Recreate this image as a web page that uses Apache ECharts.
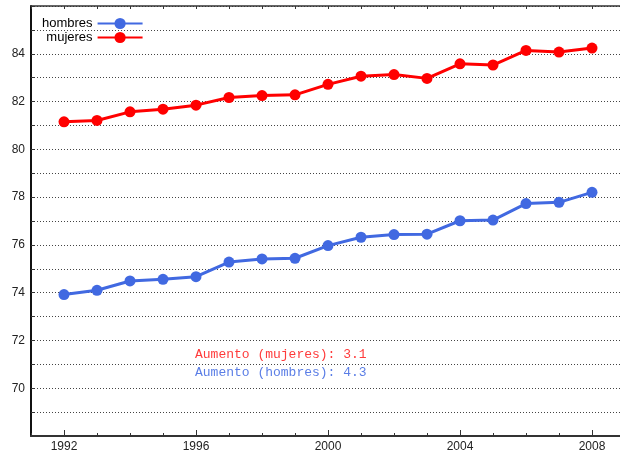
<!DOCTYPE html>
<html>
<head>
<meta charset="utf-8">
<script src="https://cdn.jsdelivr.net/npm/echarts@6/dist/echarts.min.js"></script>
<style>
  html, body { margin: 0; padding: 0; background: #fff; }
  #chart { width: 620px; height: 455px; }
</style>
</head>
<body>
<div id="chart"></div>
<script>
// años
const years = [1992, 1993, 1994, 1995, 1996, 1997, 1998, 1999, 2000,
  2001, 2002, 2003, 2004, 2005, 2006, 2007, 2008];
// esperanza de vida
const hombres = [73.92, 74.1, 74.49, 74.56, 74.67, 75.28, 75.41, 75.44, 75.97,
  76.32, 76.43, 76.45, 77.01, 77.04, 77.73, 77.78, 78.2];
const mujeres = [81.15, 81.21, 81.57, 81.68, 81.85, 82.17, 82.25, 82.28, 82.72,
  83.06, 83.13, 82.97, 83.58, 83.53, 84.14, 84.07, 84.24];
const xLabels = [1992, 1996, 2000, 2004, 2008];
const yLabels = [70, 72, 74, 76, 78, 80, 82, 84];

const toPairs = (vals) => years.map((y, i) => [y, vals[i]]);
const aumento = (vals) => (vals[vals.length - 1] - vals[0]).toFixed(1);

const myChart = echarts.init(document.getElementById('chart'));
const font = '"Liberation Sans", Arial, sans-serif';
const axisColor = '#222';

const option = {
  animation: false,
  grid: { left: 31, width: 594, top: 6, height: 430, show: false, outerBoundsMode: 'none', containLabel: false },
  legend: {
    orient: 'vertical',
    left: 37,
    top: 12,
    itemGap: 1,
    itemWidth: 45,
    itemHeight: 14,
    align: 'right',
    textStyle: { fontFamily: font, fontSize: 13, color: '#000', width: 55, align: 'right' },
    data: ['hombres', 'mujeres']
  },
  xAxis: [
    {
      type: 'value', min: 1991, max: 2009, interval: 1,
      axisLine: { lineStyle: { color: '#333', width: 2 } },
      axisTick: { inside: true, length: 3, lineStyle: { color: '#333' } },
      axisLabel: {
        customValues: xLabels, formatter: (v) => String(v),
        fontFamily: font, fontSize: 12, color: axisColor, margin: 5
      },
      splitLine: { show: false }
    },
    {
      type: 'value', min: 1991, max: 2009, interval: 1, position: 'bottom',
      axisLine: { show: false },
      axisTick: { inside: true, length: 6, customValues: xLabels, lineStyle: { color: '#333' } },
      axisLabel: { show: false },
      splitLine: { show: false }
    },
    {
      type: 'value', min: 1991, max: 2009, interval: 1, position: 'top',
      axisLine: { lineStyle: { color: '#333', width: 1.5 } },
      axisTick: { inside: true, length: 3, lineStyle: { color: '#333' } },
      axisLabel: { show: false },
      splitLine: { show: false }
    }
  ],
  yAxis: {
    type: 'value', min: 68, max: 86, interval: 1,
    axisLine: { show: true, lineStyle: { color: '#111', width: 2 } },
    axisTick: { inside: true, length: 4, lineStyle: { color: '#333' } },
    axisLabel: { customValues: yLabels, fontFamily: font, fontSize: 12, color: axisColor, margin: 6 },
    splitLine: { show: true, lineStyle: { color: '#444', type: [1, 2], width: 1 } }
  },
  series: [
    {
      name: 'hombres', type: 'line', data: toPairs(hombres),
      symbol: 'circle', symbolSize: 11,
      lineStyle: { color: '#4169e1', width: 3 },
      itemStyle: { color: '#4169e1' }
    },
    {
      name: 'mujeres', type: 'line', data: toPairs(mujeres),
      symbol: 'circle', symbolSize: 11,
      lineStyle: { color: '#ff0000', width: 3 },
      itemStyle: { color: '#ff0000' }
    }
  ],
  graphic: [
    {
      type: 'text', left: 195, top: 348,
      style: {
        text: 'Aumento (mujeres): ' + aumento(mujeres),
        fill: '#ff3b3b', font: '13px "Liberation Mono", "DejaVu Sans Mono", monospace'
      }
    },
    {
      type: 'text', left: 195, top: 366,
      style: {
        text: 'Aumento (hombres): ' + aumento(hombres),
        fill: '#5b7ee6', font: '13px "Liberation Mono", "DejaVu Sans Mono", monospace'
      }
    }
  ]
};
myChart.setOption(option);
</script>
</body>
</html>
